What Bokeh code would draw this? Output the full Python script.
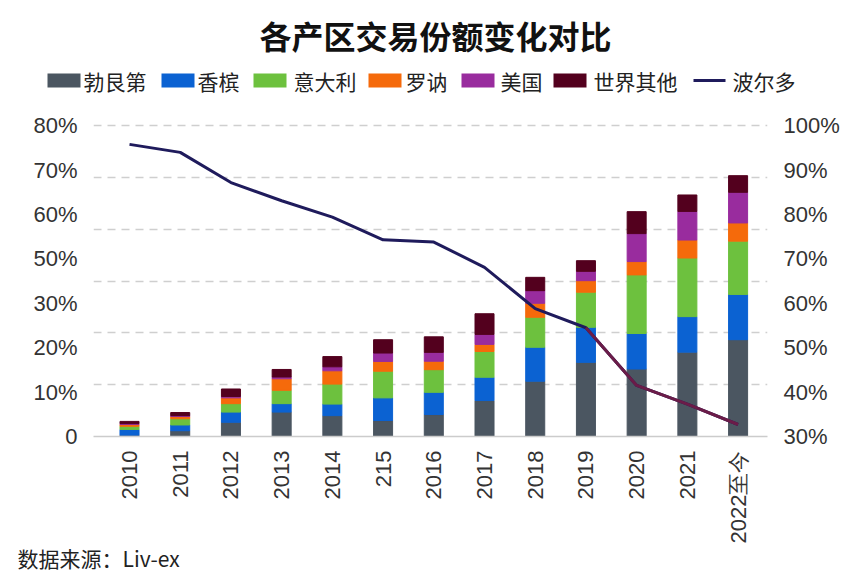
import math
from bokeh.plotting import figure
from bokeh.layouts import column
from bokeh.models import (ColumnDataSource, FixedTicker, LinearAxis, Range1d, Title)
from bokeh.core.properties import value
from bokeh.embed import file_html
from bokeh.resources import INLINE

# ---------------- data ----------------
years = ["2010", "2011", "2012", "2013", "2014", "215", "2016", "2017",
         "2018", "2019", "2020", "2021", "2022至今"]
series_names = ["勃艮第", "香槟", "意大利", "罗讷", "美国", "世界其他"]
burgundy = [0.3, 1.3, 3.2, 5.5, 4.7, 3.6, 4.95, 8.1, 12.45, 16.7, 15.2, 19.0, 21.8]
champagne = [1.3, 1.3, 2.3, 1.9, 2.6, 5.1, 5.0, 5.25, 7.65, 7.9, 8.0, 8.0, 10.2]
italy = [0.7, 1.4, 1.9, 3.0, 4.5, 6.0, 5.1, 5.8, 6.75, 7.9, 13.2, 13.2, 12.0]
rhone = [0.4, 0.5, 1.3, 2.6, 3.0, 2.2, 1.9, 1.6, 3.15, 2.6, 3.0, 4.05, 4.1]
usa = [0.2, 0.2, 0.3, 0.4, 0.9, 1.9, 2.0, 2.25, 2.85, 2.1, 6.3, 6.45, 6.9]
rest_of_world = [0.5, 0.7, 1.7, 1.7, 2.3, 3.0, 3.5, 4.65, 3.0, 2.4, 4.95, 3.7, 3.75]
bordeaux = [95.8, 94.0, 87.2, 83.1, 79.4, 74.3, 73.8, 68.1, 58.8, 54.5, 41.5, 37.3, 32.7]
line_name = "波尔多"
left_tick_values = [0, 10, 20, 30, 40, 50, 60, 70]
left_tick_labels = ["0", "10%", "20%", "30%", "50%", "60%", "70%", "80%"]
right_tick_values = [30, 40, 50, 60, 70, 80, 90, 100]
title_text = "各产区交易份额变化对比"
source_text = "数据来源：Liv-ex"

colors = ["#4b5661", "#0b62d2", "#6dc13e", "#f56a0b", "#992c9e", "#53001e"]
navy = "#1f1b5c"
maroon = "#6b1c48"

LAB_FONT = "Liberation Sans"
CJK = "Noto Sans CJK SC"

W = 860
HEAD_H = 105

# ---------------- header: title + legend ----------------
h = figure(width=W, height=HEAD_H, output_backend="svg", toolbar_location=None,
           x_range=Range1d(0, W), y_range=Range1d(HEAD_H, 0),
           x_axis_type=None, y_axis_type=None,
           min_border_left=0, min_border_right=0, min_border_top=0,
           min_border_bottom=0)
try:
    h.frame_align = False
except Exception:
    pass
h.outline_line_color = None
h.grid.visible = False

h.text(x=[435], y=[34], text=[title_text], text_font=value(CJK),
       text_font_style="bold", text_font_size="32px", text_color="#111111",
       text_align="center", text_baseline="middle")

sq_left = [47, 161, 253, 368, 461, 553]
txt_x = [83, 197, 293, 405, 500, 593]
h.quad(left=sq_left, right=[v + 33 for v in sq_left], top=[73] * 6,
       bottom=[87] * 6, fill_color=colors, line_color=None)
h.text(x=txt_x, y=[80] * 6, text=series_names, text_font=value(CJK),
       text_font_size="21px", text_color="#222222", text_baseline="middle")
h.line(x=[693, 725], y=[80, 80], line_color=navy, line_width=3)
h.text(x=[732], y=[80], text=[line_name], text_font=value(CJK),
       text_font_size="21px", text_color="#222222", text_baseline="middle")

# ---------------- main chart ----------------
xs = list(range(len(years)))
src = ColumnDataSource(dict(x=xs, b=burgundy, c=champagne, i=italy, r=rhone,
                            u=usa, w=rest_of_world))

p = figure(width=W, height=574 - HEAD_H, output_backend="svg", toolbar_location=None,
           x_range=Range1d(-0.71, 12.58), y_range=Range1d(0, 70.5),
           min_border_left=93, min_border_right=93, min_border_top=18,
           min_border_bottom=138)
try:
    p.frame_align = False
except Exception:
    pass
p.outline_line_color = None
p.extra_y_ranges = {"right": Range1d(30, 100.5)}

p.vbar_stack(["b", "c", "i", "r", "u", "w"], x="x", width=0.375, color=colors,
             source=src)

p.line(xs, bordeaux, y_range_name="right", line_color=navy, line_width=3)
p.line(xs[9:], bordeaux[9:], y_range_name="right", line_color=maroon, line_width=3)

p.xaxis.ticker = FixedTicker(ticks=xs)
p.xaxis.major_label_overrides = {i: years[i] for i in xs}
p.xaxis.major_label_orientation = math.pi / 2
p.xaxis.major_label_text_font = LAB_FONT
p.xaxis.major_label_text_font_size = "22px"
p.xaxis.major_label_text_color = "#333333"
p.xaxis.major_label_standoff = 8
p.xaxis.axis_line_color = "#cccccc"
p.xaxis.axis_line_width = 1.5
p.xaxis.major_tick_line_color = None
p.xaxis.minor_tick_line_color = None

p.yaxis.ticker = FixedTicker(ticks=left_tick_values)
p.yaxis.major_label_overrides = {v: t for v, t in zip(left_tick_values, left_tick_labels)}
p.yaxis.major_label_text_font = LAB_FONT
p.yaxis.major_label_text_font_size = "22px"
p.yaxis.major_label_text_color = "#333333"
p.yaxis.major_label_standoff = 10
p.yaxis.axis_line_color = None
p.yaxis.major_tick_line_color = None
p.yaxis.minor_tick_line_color = None

ra = LinearAxis(y_range_name="right", ticker=FixedTicker(ticks=right_tick_values))
ra.major_label_overrides = {v: f"{v}%" for v in right_tick_values}
ra.major_label_text_font = LAB_FONT
ra.major_label_text_font_size = "22px"
ra.major_label_text_color = "#333333"
ra.major_label_standoff = 10
ra.axis_line_color = None
ra.major_tick_line_color = None
ra.minor_tick_line_color = None
p.add_layout(ra, "right")

p.xgrid.visible = False
p.ygrid.ticker = FixedTicker(ticks=[70 / 6 * k for k in range(1, 7)])
p.ygrid.grid_line_color = "#cfcfcf"
p.ygrid.grid_line_width = 1.5
p.ygrid.grid_line_dash = "8 6"

src_title = Title(text=source_text, align="left", offset=-76, standoff=-8,
                  vertical_align="top",
                  text_font=CJK, text_font_size="21px", text_font_style="normal",
                  text_color="#222222")
p.add_layout(src_title, "below")

layout = column(h, p, spacing=0)
open("out.html", "w").write(file_html(layout, INLINE))
